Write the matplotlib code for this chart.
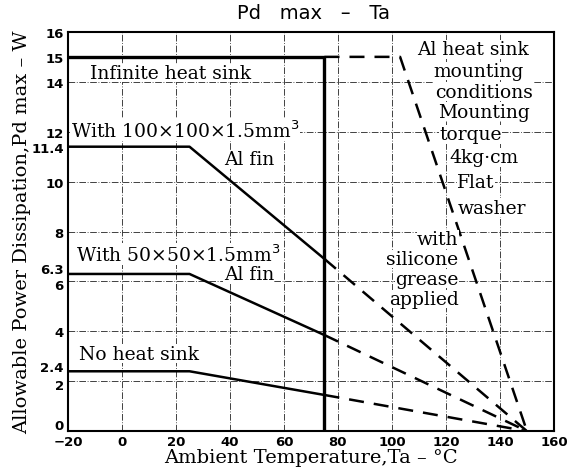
import matplotlib
matplotlib.use("Agg")
import matplotlib.pyplot as plt
from matplotlib.transforms import ScaledTranslation

# ---- data ----
x_solid = [-20, 25, 75]
x_dash = [75, 150]
inf_x_solid = [-20, 75, 75]
inf_y_solid = [15, 15, 0]
inf_x_dash = [75, 103, 150]
inf_y_dash = [15, 15, 0]
fin100 = [11.4, 11.4, 6.9]
fin50 = [6.3, 6.3, 3.85]
no_sink = [2.4, 2.4, 1.45]
fin100_dash = [6.9, 0]
fin50_dash = [3.85, 0]
no_sink_dash = [1.45, 0]

x_ticks = [-20, 0, 20, 40, 60, 80, 100, 120, 140, 160]
y_ticks = [0, 2, 2.4, 4, 6, 6.3, 8, 10, 11.4, 12, 14, 15, 16]
y_tick_labels = ["0", "2", "2.4", "4", "6", "6.3", "8", "10", "11.4", "12", "14", "15", "16"]
grid_x = [0, 20, 40, 60, 80, 100, 120, 140]
grid_y = [2, 4, 6, 8, 10, 12, 14]

serif = "DejaVu Serif"

fig = plt.figure(figsize=(5.67, 4.77), dpi=100)
ax = fig.add_axes([0.12, 0.094, 0.857, 0.837])
ax.set_xlim(-20, 160)
ax.set_ylim(0, 16)

# grid
for gx in grid_x:
    ax.axvline(gx, color="#222222", lw=0.6, ls=(0, (8, 2, 1, 2)), zorder=1)
for gy in grid_y:
    ax.axhline(gy, color="#222222", lw=0.6, ls=(0, (8, 2, 1, 2)), zorder=1)

lw = 1.8
ax.plot(inf_x_solid, inf_y_solid, color="black", lw=2.4, zorder=3)
ax.plot(inf_x_dash, inf_y_dash, color="black", lw=lw, ls=(0, (6, 4)), zorder=3)
for ys, yd in [(fin100, fin100_dash), (fin50, fin50_dash), (no_sink, no_sink_dash)]:
    ax.plot(x_solid, ys, color="black", lw=lw, zorder=3)
    ax.plot(x_dash, yd, color="black", lw=lw, ls=(0, (6, 4)), zorder=3)

ax.set_xticks(x_ticks)
ax.set_yticks(y_ticks)
ax.set_yticklabels(y_tick_labels)
ax.tick_params(length=0, labelsize=9.5, pad=3)
for lab in ax.get_xticklabels() + ax.get_yticklabels():
    lab.set_fontweight("bold")
# nudge crowded y tick labels apart
shifts = {"6.3": 4, "6": -2, "2.4": 4, "2": -2, "0": 5}
for lab in ax.get_yticklabels():
    d = shifts.get(lab.get_text())
    if d:
        lab.set_transform(lab.get_transform() + ScaledTranslation(0, d / 72, fig.dpi_scale_trans))
for s in ax.spines.values():
    s.set_linewidth(1.5)

fig.text(0.553, 0.972, "Pd   max   \u2013   Ta", fontsize=14, ha="center", va="center",
         family="DejaVu Sans")
ax.set_xlabel("Ambient Temperature,Ta \u2013 \u00b0C", family=serif, fontsize=14, labelpad=0)
ax.set_ylabel("Allowable Power Dissipation,Pd max \u2013 W", family=serif, fontsize=14, labelpad=0)

bbox = dict(facecolor="white", edgecolor="none", pad=0.3)
tk = dict(family=serif, fontsize=13.5, zorder=4, bbox=bbox)
ax.text(-12, 14.35, "Infinite heat sink", ha="left", va="center", **tk)
ax.text(-19, 12.07, "With 100\u00d7100\u00d71.5mm$^3$", ha="left", va="center", **tk)
ax.text(47, 10.9, "Al fin", ha="center", va="center", **tk)
ax.text(-17, 7.1, "With 50\u00d750\u00d71.5mm$^3$", ha="left", va="center", **tk)
ax.text(47, 6.3, "Al fin", ha="center", va="center", **tk)
ax.text(-16, 3.1, "No heat sink", ha="left", va="center", **tk)

notes = [
    ("Al heat sink", 130, 15.3),
    ("mounting", 132, 14.43),
    ("conditions", 134, 13.6),
    ("Mounting", 134, 12.8),
    ("torque", 129, 11.9),
    ("4kg\u00b7cm", 134, 10.98),
    ("Flat", 131, 10.0),
    ("washer", 137, 8.96),
    ("with", 117, 7.7),
    ("silicone", 111, 6.9),
    ("grease", 113, 6.1),
    ("applied", 112, 5.3),
]
for t, x, y in notes:
    ax.text(x, y, t, ha="center", va="center", **tk)

fig.savefig("out.png", dpi=100, facecolor="white")
